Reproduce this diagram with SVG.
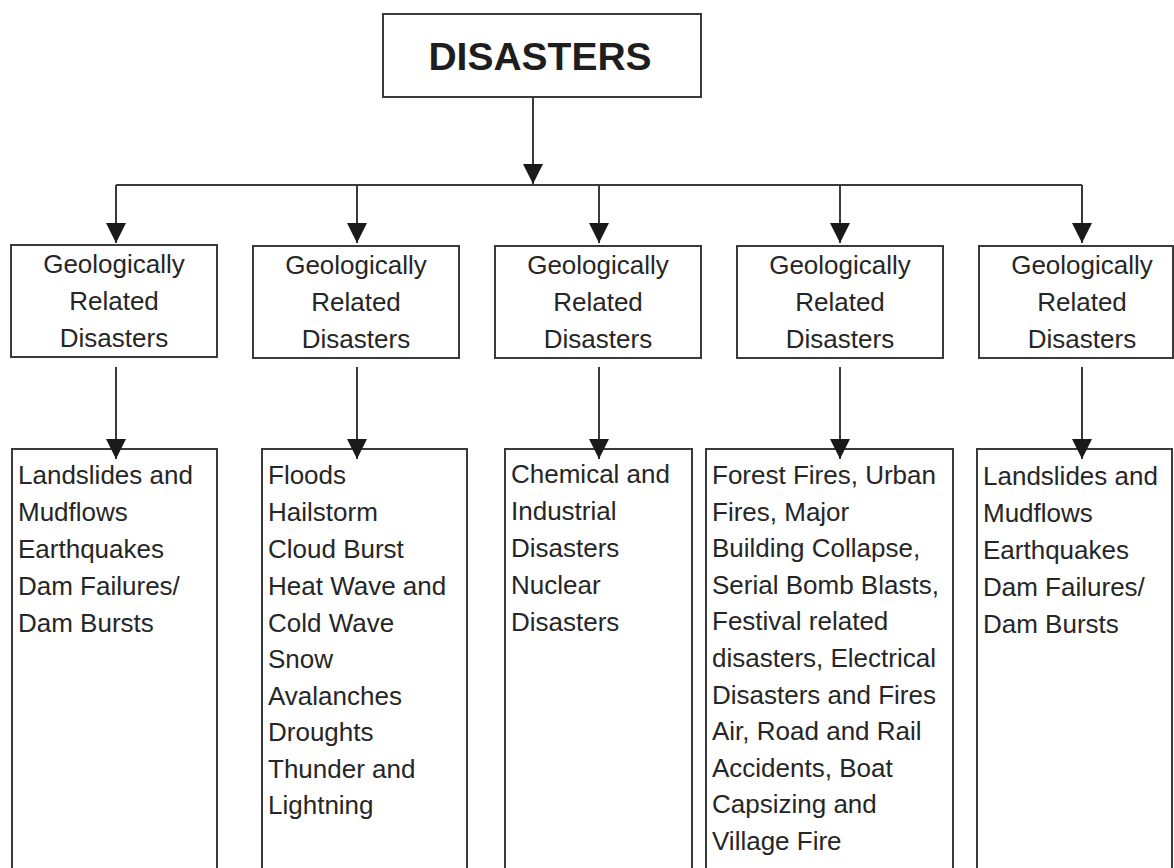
<svg xmlns="http://www.w3.org/2000/svg" width="1174" height="868" viewBox="0 0 1174 868">
  <style>
    .box { fill: #ffffff; stroke: #3a3a3a; stroke-width: 2; }
    .conn { fill: none; stroke: #3a3a3a; stroke-width: 2; }
    .t { font-family: "Liberation Sans", Arial, sans-serif; font-size: 26px; fill: #262626; }
    .c { text-anchor: middle; }
    .title { font-family: "Liberation Sans", Arial, sans-serif; font-size: 39px; font-weight: bold; fill: #1e1e1e; text-anchor: middle; }
  </style>
  <defs>
    <marker id="arrow" viewBox="0 0 20 20" refX="20" refY="10" markerWidth="20" markerHeight="20" markerUnits="userSpaceOnUse" orient="auto">
      <path d="M0,0 L20,10 L0,20 z" fill="#1a1a1a"/>
    </marker>
  </defs>
  <rect width="1174" height="868" fill="#ffffff"/>

  <g id="connectors">
    <line class="conn" x1="533" y1="97" x2="533" y2="184" marker-end="url(#arrow)"/>
    <line class="conn" x1="116" y1="185" x2="1082" y2="185"/>
    <line class="conn" x1="116" y1="185" x2="116" y2="243" marker-end="url(#arrow)"/>
    <line class="conn" x1="357" y1="185" x2="357" y2="243" marker-end="url(#arrow)"/>
    <line class="conn" x1="599" y1="185" x2="599" y2="243" marker-end="url(#arrow)"/>
    <line class="conn" x1="840" y1="185" x2="840" y2="243" marker-end="url(#arrow)"/>
    <line class="conn" x1="1082" y1="185" x2="1082" y2="243" marker-end="url(#arrow)"/>
  </g>

  <g id="root">
    <rect class="box" x="383" y="14" width="318" height="83"/>
    <text class="title" x="540" y="70">DISASTERS</text>
  </g>

  <g id="cat1">
    <rect class="box" x="11" y="245" width="206" height="112"/>
    <text class="t c" x="114" y="273">Geologically</text>
    <text class="t c" x="114" y="310">Related</text>
    <text class="t c" x="114" y="347">Disasters</text>
  </g>
  <g id="cat2">
    <rect class="box" x="253" y="246" width="206" height="112"/>
    <text class="t c" x="356" y="274">Geologically</text>
    <text class="t c" x="356" y="311">Related</text>
    <text class="t c" x="356" y="348">Disasters</text>
  </g>
  <g id="cat3">
    <rect class="box" x="495" y="246" width="206" height="112"/>
    <text class="t c" x="598" y="274">Geologically</text>
    <text class="t c" x="598" y="311">Related</text>
    <text class="t c" x="598" y="348">Disasters</text>
  </g>
  <g id="cat4">
    <rect class="box" x="737" y="246" width="206" height="112"/>
    <text class="t c" x="840" y="274">Geologically</text>
    <text class="t c" x="840" y="311">Related</text>
    <text class="t c" x="840" y="348">Disasters</text>
  </g>
  <g id="cat5">
    <rect class="box" x="979" y="246" width="194" height="112"/>
    <text class="t c" x="1082" y="274">Geologically</text>
    <text class="t c" x="1082" y="311">Related</text>
    <text class="t c" x="1082" y="348">Disasters</text>
  </g>

  <g id="list1">
    <rect class="box" x="12" y="449" width="205" height="440"/>
    <text class="t" x="18" y="484">Landslides and</text>
    <text class="t" x="18" y="521">Mudflows</text>
    <text class="t" x="18" y="558">Earthquakes</text>
    <text class="t" x="18" y="595">Dam Failures/</text>
    <text class="t" x="18" y="632">Dam Bursts</text>
  </g>
  <g id="list2">
    <rect class="box" x="262" y="449" width="205" height="440"/>
    <text class="t" x="268" y="484">Floods</text>
    <text class="t" x="268" y="521">Hailstorm</text>
    <text class="t" x="268" y="558">Cloud Burst</text>
    <text class="t" x="268" y="595">Heat Wave and</text>
    <text class="t" x="268" y="632">Cold Wave</text>
    <text class="t" x="268" y="668">Snow</text>
    <text class="t" x="268" y="705">Avalanches</text>
    <text class="t" x="268" y="741">Droughts</text>
    <text class="t" x="268" y="778">Thunder and</text>
    <text class="t" x="268" y="814">Lightning</text>
  </g>
  <g id="list3">
    <rect class="box" x="505" y="449" width="187" height="440"/>
    <text class="t" x="511" y="483">Chemical and</text>
    <text class="t" x="511" y="520">Industrial</text>
    <text class="t" x="511" y="557">Disasters</text>
    <text class="t" x="511" y="594">Nuclear</text>
    <text class="t" x="511" y="631">Disasters</text>
  </g>
  <g id="list4">
    <rect class="box" x="706" y="449" width="247" height="440"/>
    <text class="t" x="712" y="484">Forest Fires, Urban</text>
    <text class="t" x="712" y="521">Fires, Major</text>
    <text class="t" x="712" y="557">Building Collapse,</text>
    <text class="t" x="712" y="594">Serial Bomb Blasts,</text>
    <text class="t" x="712" y="630">Festival related</text>
    <text class="t" x="712" y="667">disasters, Electrical</text>
    <text class="t" x="712" y="704">Disasters and Fires</text>
    <text class="t" x="712" y="740">Air, Road and Rail</text>
    <text class="t" x="712" y="777">Accidents, Boat</text>
    <text class="t" x="712" y="813">Capsizing and</text>
    <text class="t" x="712" y="850">Village Fire</text>
  </g>
  <g id="list5">
    <rect class="box" x="977" y="449" width="195" height="440"/>
    <text class="t" x="983" y="485">Landslides and</text>
    <text class="t" x="983" y="522">Mudflows</text>
    <text class="t" x="983" y="559">Earthquakes</text>
    <text class="t" x="983" y="596">Dam Failures/</text>
    <text class="t" x="983" y="633">Dam Bursts</text>
  </g>

  <g id="connectors-lower">
    <line class="conn" x1="116" y1="367" x2="116" y2="459" marker-end="url(#arrow)"/>
    <line class="conn" x1="357" y1="367" x2="357" y2="459" marker-end="url(#arrow)"/>
    <line class="conn" x1="599" y1="367" x2="599" y2="459" marker-end="url(#arrow)"/>
    <line class="conn" x1="840" y1="367" x2="840" y2="459" marker-end="url(#arrow)"/>
    <line class="conn" x1="1082" y1="367" x2="1082" y2="459" marker-end="url(#arrow)"/>
  </g>
</svg>
